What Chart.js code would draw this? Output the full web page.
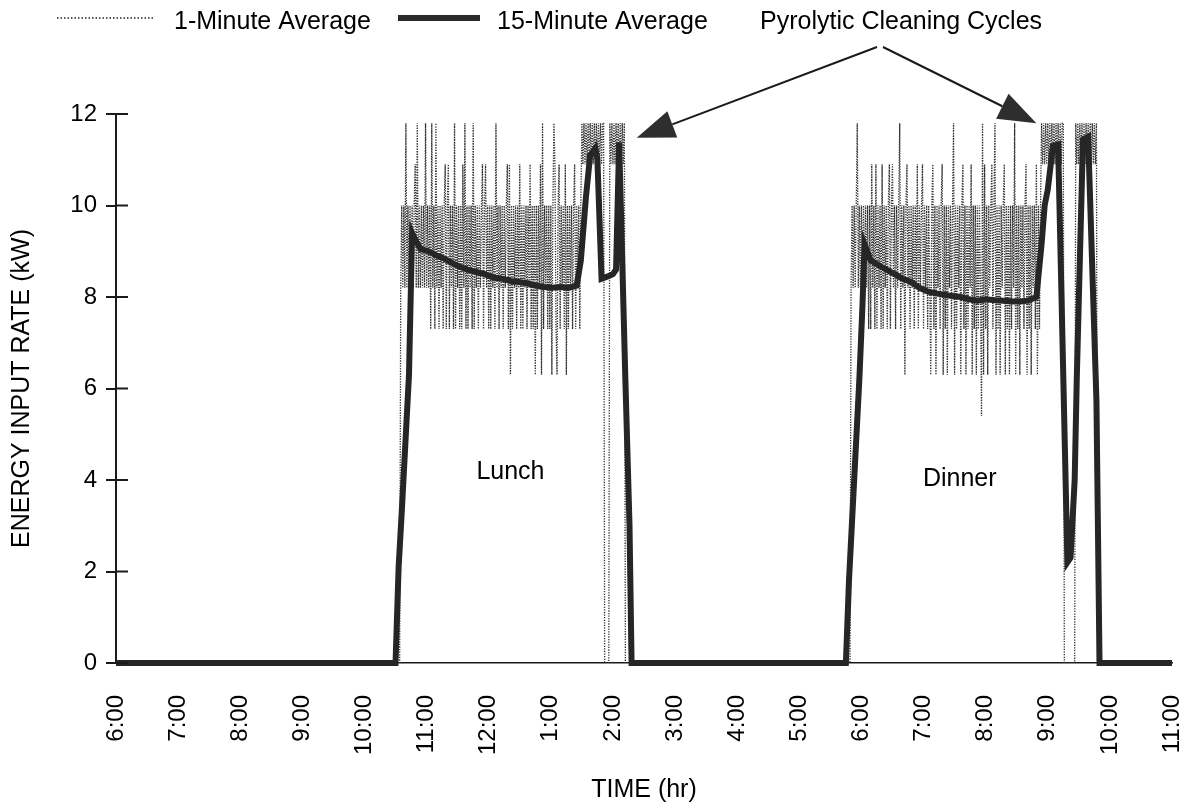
<!DOCTYPE html>
<html>
<head>
<meta charset="utf-8">
<title>Energy input rate</title>
<script src="https://cdn.jsdelivr.net/npm/chart.js@4.4.1/dist/chart.umd.min.js"></script>
<style>
  html, body { margin: 0; padding: 0; background: #fff; }
  #wrap { width: 1190px; height: 810px; }
</style>
</head>
<body>
<div id="wrap"><canvas id="energyChart" width="1190" height="810"></canvas></div>
<script>
// time axis: minutes of the day, 6:00 (360) to 23:00 (1380)
var hourLabels = ['6:00', '7:00', '8:00', '9:00', '10:00', '11:00', '12:00', '1:00', '2:00',
    '3:00', '4:00', '5:00', '6:00', '7:00', '8:00', '9:00', '10:00', '11:00'];

// 1-minute average (kW), one value per minute
var lunchStart = 632;
var lunch1Min = [
    0, 0, 0, 8.2, 10.0, 8.2, 10.0, 8.2, 11.8, 8.2,
    10.0, 8.2, 10.0, 8.2, 10.0, 8.2, 10.0, 10.9, 8.2, 11.8,
    8.2, 10.0, 8.2, 10.0, 8.2, 10.0, 8.2, 11.8, 8.2, 10.0,
    8.2, 10.0, 7.3, 11.8, 8.2, 10.0, 7.3, 11.8, 8.2, 10.0,
    7.3, 10.0, 8.2, 10.0, 7.3, 10.0, 10.9, 7.3, 10.0, 10.9,
    7.3, 10.0, 8.2, 10.0, 7.3, 11.8, 7.3, 10.0, 8.2, 10.0,
    7.3, 10.0, 7.3, 10.9, 8.2, 11.8, 7.3, 10.0, 7.3, 10.0,
    8.2, 10.0, 7.3, 11.8, 7.3, 10.0, 8.2, 10.0, 7.3, 10.0,
    8.2, 10.0, 10.9, 7.3, 10.0, 10.9, 8.2, 10.0, 7.3, 10.0,
    7.3, 10.0, 8.2, 10.0, 7.3, 11.8, 8.2, 10.0, 7.3, 10.0,
    8.2, 10.0, 7.3, 10.0, 8.2, 10.0, 10.9, 7.3, 10.9, 6.3,
    10.0, 7.3, 10.0, 8.2, 10.0, 7.3, 10.0, 8.2, 10.9, 7.3,
    10.0, 7.3, 10.0, 8.2, 10.0, 7.3, 10.0, 8.2, 10.9, 7.3,
    10.0, 7.3, 10.0, 6.3, 10.0, 7.3, 10.0, 8.2, 10.9, 6.3,
    11.8, 7.3, 10.0, 8.2, 10.0, 7.3, 10.0, 7.3, 10.0, 6.3,
    10.0, 11.8, 10.9, 7.3, 6.3, 10.0, 10.9, 7.3, 10.0, 8.2,
    10.0, 7.3, 10.9, 6.3, 10.0, 7.3, 10.0, 8.2, 10.0, 7.3,
    10.0, 10.9, 7.3, 10.0, 8.2, 10.0, 7.3, 10.0, 11.8, 10.9,
    11.8, 10.9, 11.8, 10.9, 11.8, 10.9, 11.8, 10.9, 11.8, 10.9,
    11.8, 10.9, 11.8, 10.9, 11.8, 10.9, 11.8, 10.9, 11.8, 11.8,
    0, 0, 0, 0, 0, 11.8, 10.9, 11.8, 10.9, 11.8,
    10.9, 11.8, 10.9, 11.8, 10.9, 11.8, 10.9, 11.8, 10.9, 11.8,
    0, 0
];
var dinnerStart = 1067;
var dinner1Min = [
    0, 0, 0, 8.2, 10.0, 8.2, 10.0, 8.2, 10.0, 11.8,
    8.2, 10.0, 8.2, 10.0, 8.2, 10.0, 8.2, 10.0, 8.2, 10.0,
    7.3, 10.0, 7.3, 10.9, 8.2, 10.0, 7.3, 10.9, 7.3, 10.0,
    8.2, 10.0, 7.3, 10.9, 7.3, 10.0, 8.2, 10.0, 7.3, 10.0,
    10.9, 7.3, 10.0, 10.9, 8.2, 10.0, 7.3, 10.0, 8.2, 10.0,
    11.8, 7.3, 10.0, 8.2, 10.0, 6.3, 10.0, 10.9, 8.2, 10.0,
    7.3, 10.0, 8.2, 10.0, 7.3, 10.0, 8.2, 10.9, 7.3, 10.0,
    8.2, 10.0, 10.9, 7.3, 10.0, 8.2, 10.0, 7.3, 10.0, 8.2,
    6.3, 10.0, 10.9, 7.3, 10.0, 6.3, 10.0, 8.2, 10.0, 7.3,
    10.0, 10.9, 6.3, 10.0, 7.3, 10.0, 6.3, 10.0, 8.2, 10.0,
    7.3, 10.0, 11.8, 6.3, 10.0, 7.3, 10.0, 8.2, 10.0, 6.3,
    10.0, 10.9, 7.3, 10.0, 6.3, 10.0, 7.3, 10.0, 8.2, 10.9,
    6.3, 10.0, 7.3, 10.0, 6.3, 10.0, 7.3, 10.0, 8.2, 5.4,
    11.8, 6.3, 10.9, 7.3, 10.0, 6.3, 10.0, 8.2, 10.0, 10.9,
    7.3, 10.0, 11.8, 6.3, 10.0, 7.3, 10.0, 6.3, 10.0, 8.2,
    10.0, 10.9, 6.3, 10.0, 7.3, 10.0, 6.3, 10.0, 7.3, 10.0,
    8.2, 11.8, 6.3, 10.0, 7.3, 10.0, 6.3, 10.0, 8.2, 10.0,
    7.3, 10.0, 10.9, 6.3, 10.0, 7.3, 10.0, 6.3, 10.0, 8.2,
    10.0, 7.3, 10.9, 6.3, 10.0, 7.3, 10.0, 11.8, 10.9, 11.8,
    10.9, 11.8, 10.9, 11.8, 10.9, 11.8, 10.9, 11.8, 10.9, 11.8,
    10.9, 11.8, 10.9, 11.8, 10.9, 11.8, 10.9, 11.8, 11.8, 0,
    0, 0, 0, 0, 0, 0, 0, 0, 0, 0,
    11.8, 10.9, 11.8, 10.9, 11.8, 10.9, 11.8, 10.9, 11.8, 10.9,
    11.8, 10.9, 11.8, 10.9, 11.8, 10.9, 11.8, 10.9, 11.8, 10.9,
    11.8, 0, 0
];

// 15-minute average (kW)
var avg15Time = [360, 630, 633, 636, 643, 646, 648, 654, 662, 670, 676, 684, 693, 700, 708, 716,
    725, 733, 741, 749, 757, 765, 773, 781, 789, 797, 805, 809, 814, 818, 823, 825, 829, 835, 840,
    843, 846, 852, 856, 858,
    1065, 1068, 1073, 1078, 1081, 1083, 1089, 1100, 1112, 1120, 1128, 1136, 1144, 1152, 1160,
    1168, 1176, 1184, 1192, 1200, 1209, 1217, 1225, 1233, 1241, 1249, 1254, 1257, 1260, 1265,
    1270, 1279, 1282, 1286, 1288, 1294, 1299, 1307, 1310, 1380];
var avg15Value = [0, 0, 2.1, 3.3, 6.3, 9.4, 9.3, 9.05, 9.0, 8.9, 8.85, 8.75, 8.65, 8.6, 8.55, 8.5,
    8.42, 8.4, 8.35, 8.33, 8.3, 8.25, 8.22, 8.2, 8.22, 8.2, 8.25, 8.8, 10.2, 11.1, 11.25, 11.0, 8.4,
    8.45, 8.5, 8.6, 11.38, 6.2, 3.0, 0,
    0, 1.8, 4.0, 6.2, 7.8, 9.15, 8.8, 8.65, 8.5, 8.4, 8.33, 8.2, 8.12, 8.08, 8.05,
    8.02, 8.0, 7.95, 7.92, 7.95, 7.93, 7.92, 7.9, 7.9, 7.92, 8.0, 9.15, 10.0, 10.35, 11.3,
    11.33, 2.2, 2.3, 4.0, 6.2, 11.44, 11.5, 5.75, 0, 0];

// text placed in the plot
var mealLabels = ['Lunch', 'Dinner'];
var mealLabelTime = [741, 1175];
var mealLabelValue = [4.17, 4.02];
var arrowTipTime = [863, 1249];
var arrowTipValue = [11.48, 11.8];

var FONT = "'Liberation Sans', Arial, Helvetica, sans-serif";
var INK = '#1a1a1a';

function minutePoints(start, values) {
    return values.map(function (v, i) { return { x: start + i, y: v }; });
}

var oneMinuteData = [{ x: 360, y: 0 }].concat(
    minutePoints(lunchStart, lunch1Min),
    minutePoints(dinnerStart, dinner1Min),
    [{ x: 1380, y: 0 }]
);
var fifteenMinuteData = avg15Time.map(function (t, i) {
    return { x: t, y: avg15Value[i] };
});

function drawArrow(ctx, x0, y0, x1, y1) {
    var ang = Math.atan2(y1 - y0, x1 - x0);
    var len = 38, half = 14;
    var bx = x1 - len * Math.cos(ang);
    var by = y1 - len * Math.sin(ang);
    ctx.beginPath();
    ctx.moveTo(x0, y0);
    ctx.lineTo(bx, by);
    ctx.stroke();
    ctx.beginPath();
    ctx.moveTo(x1, y1);
    ctx.lineTo(bx + half * Math.sin(ang), by - half * Math.cos(ang));
    ctx.lineTo(bx - half * Math.sin(ang), by + half * Math.cos(ang));
    ctx.closePath();
    ctx.fill();
}

var annotations = {
    id: 'annotations',
    afterDraw: function (chart) {
        var ctx = chart.ctx;
        var xs = chart.scales.x;
        var ys = chart.scales.y;
        ctx.save();

        // inner half of the y tick marks (they cross the axis)
        ctx.strokeStyle = INK;
        ctx.lineWidth = 2;
        ys.ticks.forEach(function (t) {
            var py = ys.getPixelForValue(t.value);
            ctx.beginPath();
            ctx.moveTo(xs.left, py);
            ctx.lineTo(xs.left + 12, py);
            ctx.stroke();
        });

        // legend
        ctx.font = '25px ' + FONT;
        ctx.fillStyle = '#000';
        ctx.textBaseline = 'middle';
        ctx.textAlign = 'left';

        ctx.strokeStyle = '#222';
        ctx.lineWidth = 1.5;
        ctx.setLineDash([1.5, 2]);
        ctx.beginPath();
        ctx.moveTo(57, 18);
        ctx.lineTo(153, 18);
        ctx.stroke();
        ctx.setLineDash([]);
        ctx.fillText('1-Minute Average', 174, 22);

        ctx.strokeStyle = '#2a2a2a';
        ctx.lineWidth = 6;
        ctx.beginPath();
        ctx.moveTo(398, 18);
        ctx.lineTo(480, 18);
        ctx.stroke();
        ctx.fillText('15-Minute Average', 497, 22);

        ctx.fillText('Pyrolytic Cleaning Cycles', 760, 22);

        // arrows to the cleaning cycles
        ctx.strokeStyle = INK;
        ctx.fillStyle = '#2e2e2e';
        ctx.lineWidth = 2;
        var origins = [[877, 47], [883, 47]];
        arrowTipTime.forEach(function (t, i) {
            drawArrow(ctx, origins[i][0], origins[i][1],
                xs.getPixelForValue(t), ys.getPixelForValue(arrowTipValue[i]));
        });

        // meal labels
        ctx.fillStyle = '#000';
        ctx.textAlign = 'center';
        mealLabels.forEach(function (txt, i) {
            ctx.fillText(txt, xs.getPixelForValue(mealLabelTime[i]), ys.getPixelForValue(mealLabelValue[i]));
        });

        ctx.restore();
    }
};

var ctxEnergy = document.getElementById('energyChart').getContext('2d');
var energyChart = new Chart(ctxEnergy, {
    type: 'line',
    data: {
        datasets: [{
            label: '15-Minute Average',
            data: fifteenMinuteData,
            borderColor: '#262626',
            borderWidth: 6,
            pointRadius: 0,
            tension: 0,
            clip: false
        }, {
            label: '1-Minute Average',
            data: oneMinuteData,
            borderColor: '#303030',
            borderWidth: 1.3,
            borderDash: [1.3, 1.3],
            pointRadius: 0,
            tension: 0
        }]
    },
    options: {
        responsive: false,
        animation: false,
        events: [],
        layout: {
            padding: { top: 114, right: 18, left: 0, bottom: 0 }
        },
        plugins: {
            legend: { display: false },
            tooltip: { enabled: false }
        },
        scales: {
            x: {
                type: 'linear',
                min: 360,
                max: 1380,
                afterFit: function (scale) {
                    scale.height = 147;
                    scale.paddingLeft = 0;
                    scale.paddingRight = 0;
                },
                grid: { display: false, drawTicks: false },
                border: { display: true, color: INK, width: 1.5 },
                ticks: {
                    stepSize: 60,
                    autoSkip: false,
                    minRotation: 90,
                    maxRotation: 90,
                    padding: 32,
                    color: '#000',
                    font: { family: FONT, size: 24 },
                    callback: function (v) { return hourLabels[(v - 360) / 60]; }
                },
                title: {
                    display: true,
                    text: 'TIME (hr)',
                    color: '#000',
                    font: { family: FONT, size: 25 },
                    padding: { top: 0, bottom: 5 }
                }
            },
            y: {
                min: 0,
                max: 12,
                afterFit: function (scale) { scale.width = 116; },
                grid: { drawOnChartArea: false, tickLength: 10, color: INK, lineWidth: 2 },
                border: { display: true, color: INK, width: 2 },
                ticks: {
                    stepSize: 2,
                    padding: 9,
                    color: '#000',
                    font: { family: FONT, size: 24 }
                },
                title: {
                    display: true,
                    text: 'ENERGY INPUT RATE (kW)',
                    color: '#000',
                    font: { family: FONT, size: 25 },
                    padding: { top: 7, bottom: 0 }
                }
            }
        }
    },
    plugins: [annotations]
});
</script>
</body>
</html>
